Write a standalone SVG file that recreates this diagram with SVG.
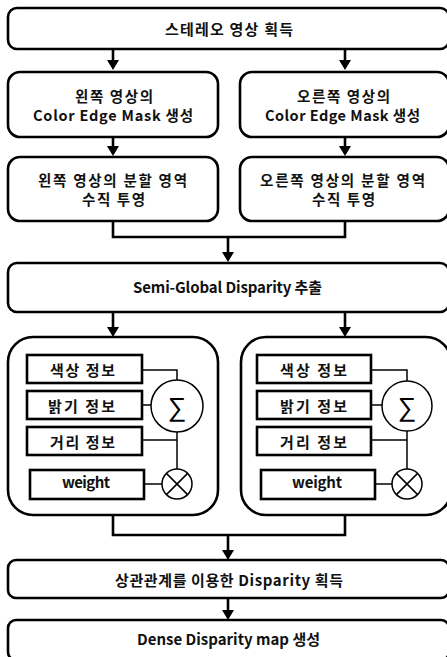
<svg xmlns="http://www.w3.org/2000/svg" width="447" height="657" viewBox="0 0 447 657">
<style>
.box{fill:#fff;stroke:#000;stroke-width:2.6}
.ibox{fill:#fff;stroke:#000;stroke-width:2.6}
.t{font-family:"Malgun Gothic","Noto Sans CJK KR",sans-serif;font-size:15px;font-weight:bold;text-anchor:middle;fill:#111}
.t2{font-size:14.5px}
.ln{fill:none;stroke:#000;stroke-width:1.5}
.cn{fill:none;stroke:#000;stroke-width:2.6}
.op{fill:#fff;stroke:#000;stroke-width:1.5}
.sig{font-family:"Liberation Sans",sans-serif;font-size:26px;text-anchor:middle;fill:#000}
</style>
<rect width="447" height="657" fill="#fff"/>
<g id="connectors">
<path class="cn" d="M113 49 V62"/>
<path class="cn" d="M345 49 V62"/>
<path class="cn" d="M113 137 V148"/>
<path class="cn" d="M345 137 V148"/>
<path class="cn" d="M113 221 V237 H345 V221"/>
<path class="cn" d="M228 237 V254"/>
<path class="cn" d="M113 312 V329"/>
<path class="cn" d="M345 312 V329"/>
<path class="cn" d="M113 515 V535 H345 V515"/>
<path class="cn" d="M228 535 V552"/>
<path class="cn" d="M228 598 V612"/>
<g id="arrowheads">
<path d="M107 60 H119 L113 70 Z"/>
<path d="M339 60 H351 L345 70 Z"/>
<path d="M107 146 H119 L113 156 Z"/>
<path d="M339 146 H351 L345 156 Z"/>
<path d="M222 252 H234 L228 262 Z"/>
<path d="M107 327 H119 L113 337 Z"/>
<path d="M339 327 H351 L345 337 Z"/>
<path d="M222 550 H234 L228 560 Z"/>
<path d="M222 610 H234 L228 620 Z"/>
</g>
</g>
<g id="n1"><rect class="box" x="8" y="8" width="441" height="41" rx="9"/><text class="t" x="229" y="35" textLength="128" lengthAdjust="spacing">스테레오 영상 획득</text></g>
<g id="n2"><rect class="box" x="8" y="72" width="210" height="65" rx="12"/><text class="t t2" x="114" y="102" textLength="78" lengthAdjust="spacing">왼쪽 영상의</text><text class="t t2" x="113" y="121" textLength="160" lengthAdjust="spacing">Color Edge Mask  생성</text></g>
<g id="n3"><rect class="box" x="240" y="72" width="209" height="65" rx="12"/><text class="t t2" x="343.5" y="102" textLength="93" lengthAdjust="spacing">오른쪽 영상의</text><text class="t t2" x="342.5" y="121" textLength="155" lengthAdjust="spacing">Color Edge Mask 생성</text></g>
<g id="n4"><rect class="box" x="8" y="157" width="210" height="64" rx="12"/><text class="t t2" x="112.5" y="186" textLength="149" lengthAdjust="spacing">왼쪽 영상의 분할 영역</text><text class="t t2" x="113.5" y="205" textLength="63" lengthAdjust="spacing">수직 투영</text></g>
<g id="n5"><rect class="box" x="240" y="157" width="209" height="64" rx="12"/><text class="t t2" x="342.5" y="186" textLength="165" lengthAdjust="spacing">오른쪽 영상의 분할 영역</text><text class="t t2" x="343.5" y="205" textLength="63" lengthAdjust="spacing">수직 투영</text></g>
<g id="n6"><rect class="box" x="8" y="263" width="441" height="49" rx="9"/><text class="t" x="227.5" y="293" textLength="189" lengthAdjust="spacing">Semi-Global Disparity  추출</text></g>
<g id="g_left">
<rect class="box" x="8" y="337" width="210" height="178" rx="25"/>
<path class="ln" d="M142 370 H177 V380"/>
<path class="ln" d="M142 405 H151"/>
<path class="ln" d="M142 440 H177"/>
<path class="ln" d="M177 432 V469"/>
<path class="ln" d="M144 484 H162"/>
<g id="l_c1"><rect class="ibox" x="27" y="355" width="115" height="28"/><text class="t" x="82.5" y="376" textLength="65" lengthAdjust="spacing">색상 정보</text></g>
<g id="l_c2"><rect class="ibox" x="27" y="391" width="115" height="28"/><text class="t" x="81.5" y="412" textLength="67" lengthAdjust="spacing">밝기 정보</text></g>
<g id="l_c3"><rect class="ibox" x="27" y="427" width="115" height="28"/><text class="t" x="82.5" y="448" textLength="65" lengthAdjust="spacing">거리 정보</text></g>
<g id="l_w"><rect class="ibox" x="30" y="470" width="114" height="29"/><text class="t" x="86" y="488" textLength="48" lengthAdjust="spacing">weight</text></g>
<g id="l_sum"><circle class="op" cx="177" cy="406" r="26"/><text class="sig" x="177" y="416">∑</text></g>
<g id="l_mul"><circle class="op" cx="177" cy="484" r="15"/><path class="ln" d="M166.4 473.4 L187.6 494.6 M187.6 473.4 L166.4 494.6"/></g>
</g>
<g id="g_right">
<rect class="box" x="241" y="337" width="210" height="178" rx="25"/>
<path class="ln" d="M371 370 H407 V381"/>
<path class="ln" d="M371 405 H382"/>
<path class="ln" d="M371 440 H407"/>
<path class="ln" d="M407 431 V469"/>
<path class="ln" d="M375 484 H392"/>
<g id="r_c1"><rect class="ibox" x="257" y="355" width="114" height="28"/><text class="t" x="313.5" y="376" textLength="67" lengthAdjust="spacing">색상 정보</text></g>
<g id="r_c2"><rect class="ibox" x="257" y="391" width="114" height="28"/><text class="t" x="313.5" y="412" textLength="67" lengthAdjust="spacing">밝기 정보</text></g>
<g id="r_c3"><rect class="ibox" x="257" y="427" width="114" height="28"/><text class="t" x="313.5" y="448" textLength="67" lengthAdjust="spacing">거리 정보</text></g>
<g id="r_w"><rect class="ibox" x="261" y="470" width="114" height="29"/><text class="t" x="317" y="488" textLength="50" lengthAdjust="spacing">weight</text></g>
<g id="r_sum"><circle class="op" cx="407" cy="406" r="25"/><text class="sig" x="407" y="416">∑</text></g>
<g id="r_mul"><circle class="op" cx="407" cy="484" r="15"/><path class="ln" d="M396.4 473.4 L417.6 494.6 M417.6 473.4 L396.4 494.6"/></g>
</g>
<g id="n7"><rect class="box" x="8" y="560" width="441" height="38" rx="8"/><text class="t" x="229" y="586" textLength="228" lengthAdjust="spacing">상관관계를 이용한 Disparity  획득</text></g>
<g id="n8"><rect class="box" x="8" y="620" width="441" height="40" rx="8"/><text class="t" x="228.5" y="645" textLength="183" lengthAdjust="spacing">Dense Disparity  map 생성</text></g>
</svg>
